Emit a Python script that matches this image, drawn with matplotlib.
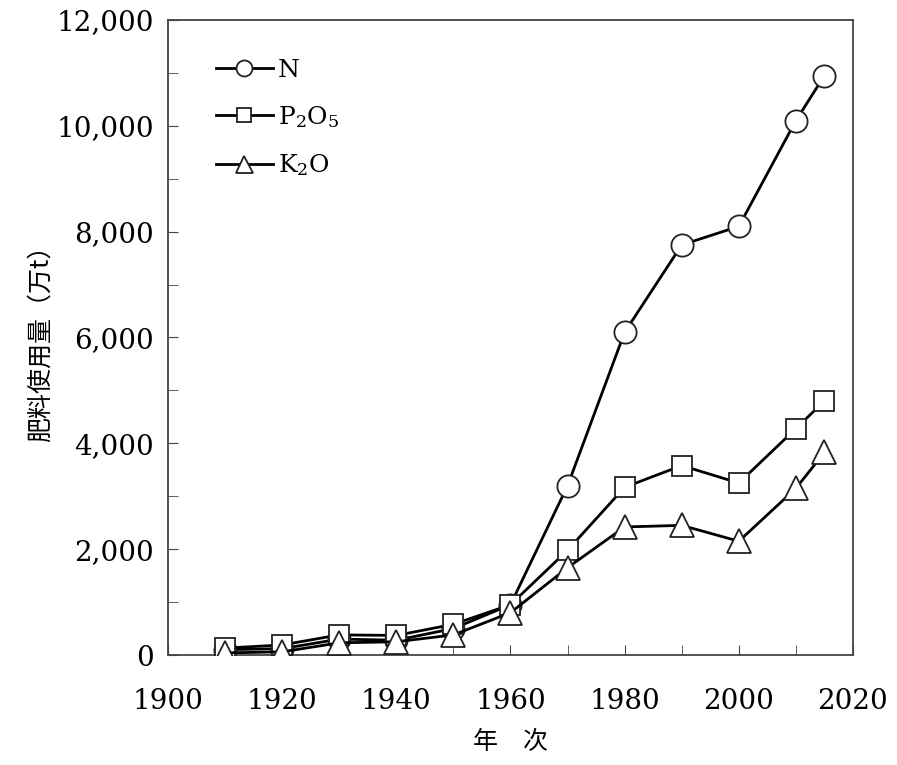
import matplotlib
matplotlib.use('Agg')
import matplotlib.pyplot as plt
from matplotlib.ticker import MultipleLocator, FuncFormatter

plt.rcParams['font.family'] = ['DejaVu Serif', 'Noto Sans CJK SC']
plt.rcParams['mathtext.fontset'] = 'dejavuserif'

years = [1910, 1920, 1930, 1940, 1950, 1960, 1970, 1980, 1990, 2000, 2010, 2015]
n_vals = [100, 120, 300, 280, 500, 950, 3200, 6100, 7750, 8100, 10100, 10950]
p_vals = [130, 190, 380, 370, 580, 950, 1980, 3170, 3580, 3250, 4280, 4800]
k_vals = [40, 60, 230, 250, 380, 800, 1650, 2420, 2450, 2150, 3150, 3830]

fig = plt.figure(figsize=(8.97, 7.65), dpi=100)
ax = fig.add_axes([168/897, 110/765, 685/897, 635/765])

style = dict(color='black', lw=2.0, mfc='white', mec='#222222', mew=1.3)
ax.plot(years, n_vals, marker='o', ms=16, label='N', zorder=3, **style)
ax.plot(years, p_vals, marker='s', ms=14.5, label='P$_2$O$_5$', zorder=4, **style)
ax.plot(years, k_vals, marker='^', ms=17, label='K$_2$O', zorder=5, **style)

ax.set_xlim(1900, 2020)
ax.set_ylim(0, 12000)
ax.xaxis.set_major_locator(MultipleLocator(20))
ax.xaxis.set_minor_locator(MultipleLocator(10))
ax.yaxis.set_major_locator(MultipleLocator(2000))
ax.yaxis.set_minor_locator(MultipleLocator(1000))
ax.yaxis.set_major_formatter(FuncFormatter(lambda v, p: f'{int(v):,}'))
ax.tick_params(which='both', direction='in', labelsize=20, color='#444444', length=7)
ax.tick_params(axis='x', pad=24)
ax.tick_params(axis='y', pad=10)
for s in ax.spines.values():
    s.set_color('#444444')
    s.set_linewidth(1.3)

ax.set_ylabel('肥料使用量（万t）', fontsize=18, family=['Noto Sans CJK SC'], labelpad=2)
ax.set_xlabel('年　次', fontsize=18, family=['Noto Sans CJK SC'], labelpad=10)

ax.legend(loc='upper left', frameon=False, fontsize=18, handlelength=2.3,
          labelspacing=0.9, handletextpad=0.2, markerscale=0.72,
          bbox_to_anchor=(0.055, 0.955), borderaxespad=0)

fig.savefig('out.png', dpi=100)
